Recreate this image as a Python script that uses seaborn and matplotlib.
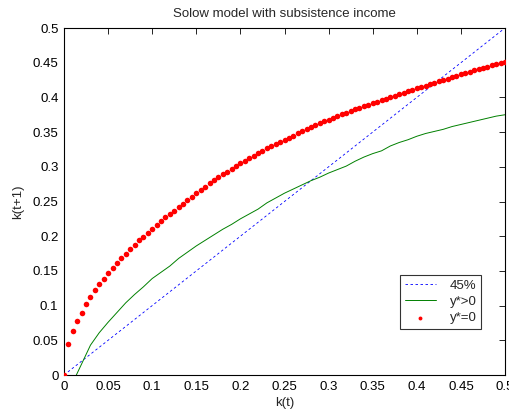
import matplotlib
matplotlib.use("Agg")
import matplotlib.pyplot as plt
import seaborn as sns
import pandas as pd

# 45 degree reference line
diag_k = [0.0, 0.5]
diag_v = [0.0, 0.5]

# y* > 0 (green line)
green_k = [0.014, 0.02, 0.03, 0.04, 0.05, 0.06, 0.07, 0.08, 0.09, 0.10,
           0.11, 0.12, 0.13, 0.14, 0.15, 0.16, 0.17, 0.18, 0.19, 0.20,
           0.21, 0.22, 0.23, 0.24, 0.25, 0.26, 0.27, 0.28, 0.29, 0.30,
           0.31, 0.32, 0.33, 0.34, 0.35, 0.36, 0.37, 0.38, 0.39, 0.40,
           0.41, 0.42, 0.43, 0.44, 0.45, 0.46, 0.47, 0.48, 0.49, 0.50]
green_v = [0.0, 0.016, 0.043, 0.061, 0.076, 0.090, 0.104, 0.116, 0.127, 0.139,
           0.148, 0.157, 0.168, 0.177, 0.186, 0.194, 0.202, 0.210, 0.217, 0.225,
           0.232, 0.239, 0.248, 0.255, 0.262, 0.268, 0.274, 0.280, 0.285, 0.291,
           0.296, 0.301, 0.308, 0.314, 0.319, 0.323, 0.330, 0.335, 0.339, 0.344,
           0.348, 0.351, 0.354, 0.358, 0.361, 0.364, 0.367, 0.370, 0.373, 0.375]

# y* = 0 (red dots)
red_k = [0.000, 0.005, 0.010, 0.015, 0.020, 0.025, 0.030, 0.035, 0.040, 0.045,
         0.050, 0.055, 0.060, 0.065, 0.070, 0.075, 0.080, 0.085, 0.090, 0.095,
         0.100, 0.105, 0.110, 0.115, 0.120, 0.125, 0.130, 0.135, 0.140, 0.145,
         0.150, 0.155, 0.160, 0.165, 0.170, 0.175, 0.180, 0.185, 0.190, 0.195,
         0.200, 0.205, 0.210, 0.215, 0.220, 0.225, 0.230, 0.235, 0.240, 0.245,
         0.250, 0.255, 0.260, 0.265, 0.270, 0.275, 0.280, 0.285, 0.290, 0.295,
         0.300, 0.305, 0.310, 0.315, 0.320, 0.325, 0.330, 0.335, 0.340, 0.345,
         0.350, 0.355, 0.360, 0.365, 0.370, 0.375, 0.380, 0.385, 0.390, 0.395,
         0.400, 0.405, 0.410, 0.415, 0.420, 0.425, 0.430, 0.435, 0.440, 0.445,
         0.450, 0.455, 0.460, 0.465, 0.470, 0.475, 0.480, 0.485, 0.490, 0.495,
         0.500]
red_v = [0.0, 0.044, 0.063, 0.078, 0.090, 0.102, 0.113, 0.122, 0.1305, 0.139,
         0.147, 0.154, 0.161, 0.168, 0.175, 0.182, 0.188, 0.194, 0.1995, 0.205,
         0.211, 0.216, 0.222, 0.227, 0.232, 0.237, 0.242, 0.247, 0.252, 0.257,
         0.262, 0.267, 0.2715, 0.276, 0.2805, 0.285, 0.289, 0.293, 0.297, 0.301,
         0.305, 0.309, 0.3125, 0.316, 0.3195, 0.323, 0.3265, 0.330, 0.333, 0.336,
         0.339, 0.342, 0.345, 0.348, 0.351, 0.354, 0.357, 0.360, 0.363, 0.3655,
         0.368, 0.3705, 0.373, 0.3755, 0.378, 0.3805, 0.383, 0.385, 0.387, 0.3895,
         0.392, 0.394, 0.396, 0.398, 0.400, 0.4025, 0.405, 0.407, 0.409, 0.411,
         0.413, 0.415, 0.417, 0.419, 0.421, 0.423, 0.425, 0.427, 0.429, 0.431,
         0.433, 0.435, 0.437, 0.439, 0.441, 0.4425, 0.444, 0.446, 0.448, 0.4495,
         0.451]

tick_vals = [0, 0.05, 0.1, 0.15, 0.2, 0.25, 0.3, 0.35, 0.4, 0.45, 0.5]
tick_labels = ["0", "0.05", "0.1", "0.15", "0.2", "0.25", "0.3", "0.35", "0.4", "0.45", "0.5"]

sns.set_style("white")
plt.rcParams["font.family"] = ["Liberation Sans", "DejaVu Sans"]
plt.rcParams["font.size"] = 9.5

fig = plt.figure(figsize=(5.1, 4.12), dpi=100)
ax = fig.add_axes([64 / 510, 1 - 375 / 412, 441 / 510, 347 / 412])

sns.lineplot(x=diag_k, y=diag_v, ax=ax, color="#0000ff", linestyle=(0, (3, 3)),
             linewidth=0.6, label="45%")
sns.lineplot(x=green_k, y=green_v, ax=ax, color="#008000", linewidth=0.7,
             label="y*>0", sort=False)
sns.scatterplot(x=red_k, y=red_v, ax=ax, color="#ff0000", s=16, linewidth=0,
                label="y*=0", zorder=3)

ax.set_xlim(0, 0.5)
ax.set_ylim(0, 0.5)
ax.set_xticks(tick_vals)
ax.set_xticklabels(tick_labels)
ax.set_yticks(tick_vals)
ax.set_yticklabels(tick_labels)
ax.tick_params(direction="in", length=4, width=0.6, top=True, right=True,
               labelsize=9.5, colors="black", pad=4)
for side in ax.spines.values():
    side.set_color("black")
    side.set_linewidth(0.8)

ax.set_title("Solow model with subsistence income", fontsize=9.5, pad=8)
ax.set_xlabel("k(t)", fontsize=9.5, labelpad=3)
ax.set_ylabel("k(t+1)", fontsize=9.5, labelpad=6)

leg = ax.legend(loc="upper left", bbox_to_anchor=(336 / 441, 1 - 247 / 347),
                frameon=True, fancybox=False, fontsize=9.5, borderpad=0.35,
                handlelength=2.4, labelspacing=0.3, handletextpad=1.0,
                borderaxespad=0, markerscale=0.7)
leg.get_frame().set_edgecolor("black")
leg.get_frame().set_linewidth(0.8)

fig.savefig("out.png", dpi=100)
